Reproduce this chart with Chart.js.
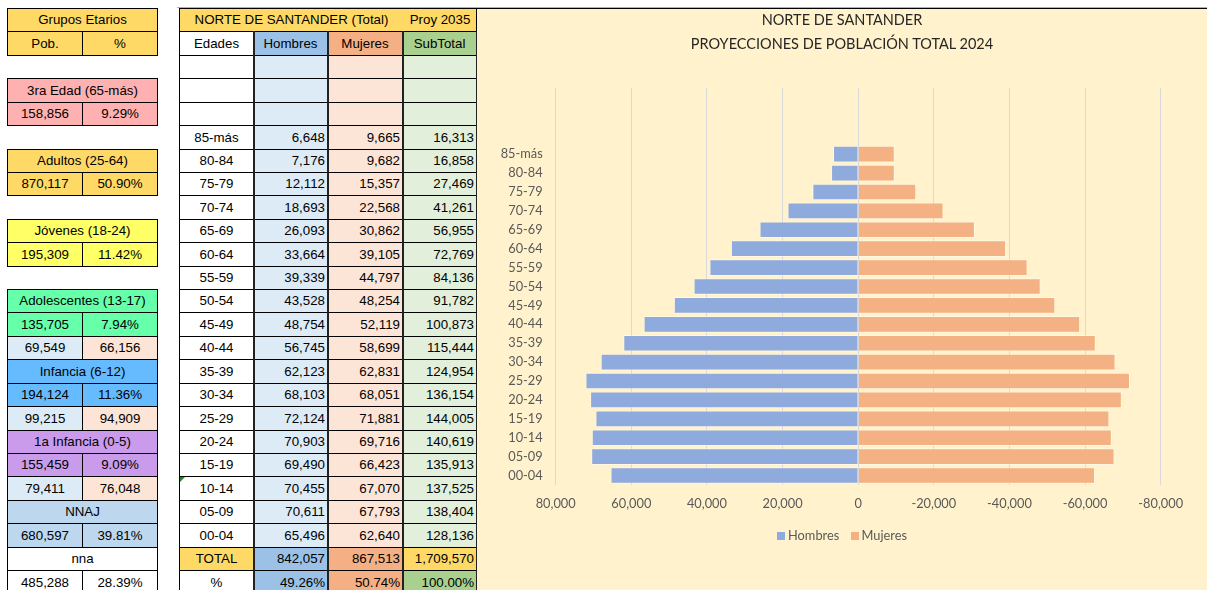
<!DOCTYPE html>
<html>
<head>
<meta charset="utf-8">
<script src="https://cdn.jsdelivr.net/npm/chart.js@4.4.1/dist/chart.umd.min.js"></script>
<style>
  html, body { margin: 0; padding: 0; background: #fff; }
  body { width: 1207px; height: 590px; position: relative; overflow: hidden;
         font-family: 'Liberation Sans', Arial, sans-serif; font-size: 13.3px; color: #000; }
  .cell { position: absolute; box-sizing: border-box; border: 1px solid #000;
          white-space: nowrap; overflow: hidden; }
  .vline { position: absolute; background: #222; }
  #panel { position: absolute; left: 477px; top: 8px; width: 730px; height: 582px;
           background: #FFF2CC; border-top: 1px solid #000; box-sizing: border-box; }
  #chart { position: absolute; left: 0; top: 0; }
  .ttl { position: absolute; left: 0; width: 730px; text-align: center;
         font-family: Lato, 'Liberation Sans', sans-serif; font-size: 14.5px; color: #262626; }
  #legend { position: absolute; left: 0; width: 730px; top: 518px; text-align: center;
            font-family: Lato, 'Liberation Sans', sans-serif; font-size: 12.8px; color: #595959; }
  #legend span.sw { display: inline-block; width: 8px; height: 8px; margin: 0 3px 0 0; vertical-align: 0px; }
  #legend span.it { margin: 0 4px; }
</style>
</head>
<body>
<div id="sheet"></div>
<div id="panel">
  <canvas id="chart" width="730" height="581"></canvas>
  <div class="ttl" style="top:2px">NORTE DE SANTANDER</div>
  <div class="ttl" style="top:26px">PROYECCIONES DE POBLACIÓN TOTAL 2024</div>
  <div id="legend">
    <span class="it"><span class="sw" style="background:#8FAADC"></span>Hombres</span>
    <span class="it"><span class="sw" style="background:#F4B183"></span>Mujeres</span>
  </div>
</div>
<script>
// ---- data ----
const edades = ['85-más','80-84','75-79','70-74','65-69','60-64','55-59','50-54','45-49',
                '40-44','35-39','30-34','25-29','20-24','15-19','10-14','05-09','00-04'];
const hombres = [6648, 7176, 12112, 18693, 26093, 33664, 39339, 43528, 48754,
                 56745, 62123, 68103, 72124, 70903, 69490, 70455, 70611, 65496];
const mujeres = [9665, 9682, 15357, 22568, 30862, 39105, 44797, 48254, 52119,
                 58699, 62831, 68051, 71881, 69716, 66423, 67070, 67793, 62640];
const subtotal = [16313, 16858, 27469, 41261, 56955, 72769, 84136, 91782, 100873,
                  115444, 124954, 136154, 144005, 140619, 135913, 137525, 138404, 128136];
const totales = ['842,057', '867,513', '1,709,570'];
const porcentajes = ['49.26%', '50.74%', '100.00%'];
const filasVacias = 3;
const xTicks = [-80000, -60000, -40000, -20000, 0, 20000, 40000, 60000, 80000];

const grupos = [
  { nombre: '3ra Edad (65-más)', pob: '158,856', pct: '9.29%', color: '#FFB0B0', fila: 3 },
  { nombre: 'Adultos (25-64)', pob: '870,117', pct: '50.90%', color: '#FFD966', fila: 6 },
  { nombre: 'Jóvenes (18-24)', pob: '195,309', pct: '11.42%', color: '#FFFF66', fila: 9 },
  { nombre: 'Adolescentes (13-17)', pob: '135,705', pct: '7.94%', color: '#66FFAA', fila: 12, h: '69,549', m: '66,156' },
  { nombre: 'Infancia (6-12)', pob: '194,124', pct: '11.36%', color: '#66BBFF', fila: 15, h: '99,215', m: '94,909' },
  { nombre: '1a Infancia (0-5)', pob: '155,459', pct: '9.09%', color: '#C99BEA', fila: 18, h: '79,411', m: '76,048' },
  { nombre: 'NNAJ', pob: '680,597', pct: '39.81%', color: '#BDD7EE', fila: 21 },
  { nombre: 'nna', pob: '485,288', pct: '28.39%', color: '#FFFFFF', fila: 23 }
];

// ---- sheet (tables) ----
const sheet = document.getElementById('sheet');
const ROW = 23.42, TOP = 8;
const rowY = r => Math.round(TOP + r * ROW);
const fmt = v => v.toLocaleString('en-US');

function cell(x0, x1, r0, r1, bg, text, align) {
  const d = document.createElement('div');
  d.className = 'cell';
  const h = rowY(r1) - rowY(r0);
  d.style.left = x0 + 'px';
  d.style.top = rowY(r0) + 'px';
  d.style.width = (x1 - x0 + 1) + 'px';
  d.style.height = (h + 1) + 'px';
  d.style.background = bg;
  d.style.lineHeight = (h - 1) + 'px';
  d.style.textAlign = align || 'center';
  if (align === 'right') d.style.paddingRight = '2px';
  d.textContent = text || '';
  sheet.appendChild(d);
  return d;
}

// left table
const L = [7, 82, 157];
cell(L[0], L[2], 0, 1, '#FFD966', 'Grupos Etarios');
cell(L[0], L[1], 1, 2, '#FFD966', 'Pob.');
cell(L[1], L[2], 1, 2, '#FFD966', '%');
grupos.forEach(g => {
  cell(L[0], L[2], g.fila, g.fila + 1, g.color, g.nombre);
  cell(L[0], L[1], g.fila + 1, g.fila + 2, g.color, g.pob);
  cell(L[1], L[2], g.fila + 1, g.fila + 2, g.color, g.pct);
  if (g.h) {
    cell(L[0], L[1], g.fila + 2, g.fila + 3, '#DDEBF7', g.h);
    cell(L[1], L[2], g.fila + 2, g.fila + 3, '#FCE4D6', g.m);
  }
});

// main table
const C = [179, 253, 327, 402, 476];
const hdr = cell(C[0], C[4], 0, 1, '#FFD966', '');
hdr.innerHTML = '<span style="position:absolute;left:0;width:223px;text-align:center">NORTE DE SANTANDER (Total)</span>' +
                '<span style="position:absolute;left:223px;width:74px;text-align:center">Proy 2035</span>';
cell(C[0], C[1], 1, 2, '#FFFFFF', 'Edades');
cell(C[1], C[2], 1, 2, '#9BC2E6', 'Hombres');
cell(C[2], C[3], 1, 2, '#F4B084', 'Mujeres');
cell(C[3], C[4], 1, 2, '#A9D08E', 'SubTotal');
for (let i = 0; i < filasVacias; i++) {
  const r = 2 + i;
  cell(C[0], C[1], r, r + 1, '#FFFFFF', '');
  cell(C[1], C[2], r, r + 1, '#DDEBF7', '');
  cell(C[2], C[3], r, r + 1, '#FCE4D6', '');
  cell(C[3], C[4], r, r + 1, '#E2EFDA', '');
}
edades.forEach((e, i) => {
  const r = 2 + filasVacias + i;
  cell(C[0], C[1], r, r + 1, '#FFFFFF', e);
  cell(C[1], C[2], r, r + 1, '#DDEBF7', fmt(hombres[i]), 'right');
  cell(C[2], C[3], r, r + 1, '#FCE4D6', fmt(mujeres[i]), 'right');
  cell(C[3], C[4], r, r + 1, '#E2EFDA', fmt(subtotal[i]), 'right');
});
const rT = 2 + filasVacias + edades.length;
cell(C[0], C[1], rT, rT + 1, '#FFD966', 'TOTAL');
cell(C[1], C[2], rT, rT + 1, '#9BC2E6', totales[0], 'right');
cell(C[2], C[3], rT, rT + 1, '#F4B084', totales[1], 'right');
cell(C[3], C[4], rT, rT + 1, '#FFD966', totales[2], 'right');
cell(C[0], C[1], rT + 1, rT + 2, '#FFFFFF', '%');
cell(C[1], C[2], rT + 1, rT + 2, '#9BC2E6', porcentajes[0], 'right');
cell(C[2], C[3], rT + 1, rT + 2, '#F4B084', porcentajes[1], 'right');
cell(C[3], C[4], rT + 1, rT + 2, '#A9D08E', porcentajes[2], 'right');

// medium column borders
[C[1], C[2], C[3], C[4]].forEach(x => {
  const v = document.createElement('div');
  v.className = 'vline';
  v.style.left = x + 'px';
  v.style.top = rowY(1) + 'px';
  v.style.width = '2px';
  v.style.height = (590 - rowY(1)) + 'px';
  sheet.appendChild(v);
});
// grey sheet gridline over top
const g = document.createElement('div');
g.style.cssText = 'position:absolute;left:177px;top:7px;width:1030px;height:1px;background:#B0B0B0';
sheet.appendChild(g);
// green error marker on 10-14
const tri = document.createElement('div');
const r1014 = 2 + filasVacias + edades.indexOf('10-14');
tri.style.cssText = 'position:absolute;left:180px;top:' + (rowY(r1014) + 1) +
  'px;width:0;height:0;border-top:5px solid #1E8C1E;border-right:5px solid transparent';
sheet.appendChild(tri);

// ---- chart ----
const labels = Array(filasVacias).fill('').concat(edades);
const pad = arr => Array(filasVacias).fill(null).concat(arr);
const chartFont = { family: "Lato, 'Liberation Sans', sans-serif", size: 12.8 };

new Chart(document.getElementById('chart'), {
  type: 'bar',
  data: {
    labels: labels,
    datasets: [{
      label: 'Hombres',
      data: pad(hombres),
      backgroundColor: '#8FAADC',
      borderColor: 'rgba(255,255,255,0.45)',
      borderWidth: 1,
      barPercentage: 0.88,
      categoryPercentage: 1
    }, {
      label: 'Mujeres',
      data: pad(mujeres.map(v => -v)),
      backgroundColor: '#F4B183',
      borderColor: 'rgba(255,255,255,0.45)',
      borderWidth: 1,
      barPercentage: 0.88,
      categoryPercentage: 1
    }]
  },
  options: {
    indexAxis: 'y',
    responsive: false,
    animation: false,
    devicePixelRatio: 1,
    layout: { padding: { top: 79, right: 46.3, left: 0, bottom: 0 } },
    plugins: { legend: { display: false }, title: { display: false }, tooltip: { enabled: false } },
    scales: {
      x: {
        type: 'linear',
        min: -80000,
        max: 80000,
        reverse: true,
        stacked: true,
        afterBuildTicks: s => { s.ticks = xTicks.map(v => ({ value: v })); },
        afterFit: s => { s.height = 105; },
        grid: { color: '#D9D9D9', lineWidth: 1, drawTicks: false, tickLength: 0 },
        border: { display: false },
        ticks: { color: '#595959', font: chartFont, padding: 11, callback: v => fmt(v) }
      },
      y: {
        stacked: true,
        afterFit: s => { s.width = 78.7; },
        grid: { display: false, drawTicks: false, tickLength: 0 },
        border: { display: false },
        ticks: { color: '#595959', font: chartFont, padding: 13, autoSkip: false }
      }
    }
  }
});
</script>
</body>
</html>
